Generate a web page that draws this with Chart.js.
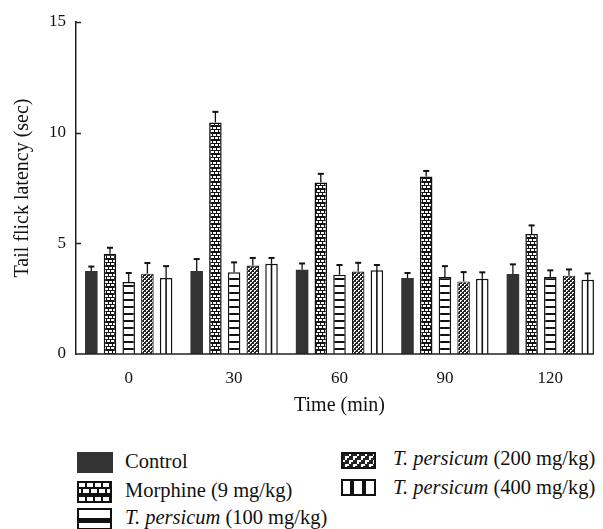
<!DOCTYPE html>
<html>
<head>
<meta charset="utf-8">
<script src="https://cdn.jsdelivr.net/npm/chart.js@4.4.0/dist/chart.umd.min.js"></script>
<style>
  body { margin: 0; background: #fff; width: 603px; height: 529px; overflow: hidden; position: relative;
         font-family: 'Liberation Serif', serif; color: #111; }
  #chart-box { position: absolute; left: 0; top: 0; width: 603px; height: 430px; }
  .swatch { position: absolute; }
  .leg-text { position: absolute; font-size: 20.5px; line-height: 20px; white-space: nowrap; }
</style>
</head>
<body>
<div id="chart-box"><canvas id="tail-chart"></canvas></div>

<canvas class="swatch" id="sw-control" width="36" height="21" style="left:77px;top:452px"></canvas>
<div class="leg-text" style="left:125px;top:451px">Control</div>
<canvas class="swatch" id="sw-morphine" width="35" height="22" style="left:77px;top:481px"></canvas>
<div class="leg-text" style="left:125px;top:480px">Morphine (9 mg/kg)</div>
<canvas class="swatch" id="sw-tp100" width="35" height="22" style="left:77px;top:508px"></canvas>
<div class="leg-text" style="left:125px;top:507px"><i>T. persicum</i> (100 mg/kg)</div>
<canvas class="swatch" id="sw-tp200" width="35" height="17" style="left:341px;top:452px"></canvas>
<div class="leg-text" style="left:393px;top:448px"><i>T. persicum</i> (200 mg/kg)</div>
<canvas class="swatch" id="sw-tp400" width="35" height="17" style="left:341px;top:479px"></canvas>
<div class="leg-text" style="left:393px;top:477px"><i>T. persicum</i> (400 mg/kg)</div>

<script>
// values (mean and the upward error bar)
const timePoints = ['0', '30', '60', '90', '120'];
const seriesNames = ['Control', 'Morphine (9 mg/kg)', 'T. persicum (100 mg/kg)',
                     'T. persicum (200 mg/kg)', 'T. persicum (400 mg/kg)'];
const controlMean = [3.75, 3.75, 3.81, 3.43, 3.61];
const controlErr = [0.20, 0.54, 0.28, 0.23, 0.44];
const morphineMean = [4.53, 10.46, 7.75, 8.02, 5.42];
const morphineErr = [0.27, 0.48, 0.39, 0.25, 0.39];
const tp100Mean = [3.25, 3.69, 3.58, 3.48, 3.48];
const tp100Err = [0.41, 0.45, 0.44, 0.49, 0.30];
const tp200Mean = [3.63, 4.00, 3.73, 3.28, 3.54];
const tp200Err = [0.48, 0.34, 0.39, 0.42, 0.28];
const tp400Mean = [3.43, 4.08, 3.78, 3.40, 3.36];
const tp400Err = [0.54, 0.26, 0.24, 0.29, 0.28];
const yTicks = [0, 5, 10, 15];

const INK = '#111';
const FONT = "'Liberation Serif', 'Times New Roman', serif";

// pattern tiles, s = pixel scale
function brickTile(s) {
  const c = document.createElement('canvas');
  c.width = 8 * s; c.height = 7 * s;
  const g = c.getContext('2d');
  g.fillStyle = INK; g.fillRect(0, 0, c.width, c.height);
  g.fillStyle = '#fff';
  g.scale(s, s);
  g.fillRect(1, 1, 3, 2); g.fillRect(5, 1, 3, 2);
  g.fillRect(3, 4, 3, 2); g.fillRect(7, 4, 1, 2); g.fillRect(0, 4, 2, 2);
  return c;
}

function stripeTile() {
  const c = document.createElement('canvas');
  c.width = 4; c.height = 7;
  const g = c.getContext('2d');
  g.fillStyle = '#fff'; g.fillRect(0, 0, 4, 7);
  g.fillStyle = INK; g.fillRect(0, 5, 4, 2);
  return c;
}

function speckleTile(s) {
  const c = document.createElement('canvas');
  c.width = 4 * s; c.height = 4 * s;
  const g = c.getContext('2d');
  g.fillStyle = '#222'; g.fillRect(0, 0, c.width, c.height);
  g.fillStyle = '#fff';
  g.scale(s, s);
  g.fillRect(0, 0, 2, 1); g.fillRect(0, 1, 1, 1);
  g.fillRect(2, 2, 2, 1); g.fillRect(2, 3, 1, 1);
  return c;
}

const tmp = document.createElement('canvas').getContext('2d');
const brickFill = tmp.createPattern(brickTile(1), 'repeat');
const stripeFill = tmp.createPattern(stripeTile(), 'repeat');
const speckleFill = tmp.createPattern(speckleTile(1), 'repeat');

// error bars, the middle line of the 400 mg bars, inward y ticks, x axis line
const extrasPlugin = {
  id: 'extras',
  afterDatasetsDraw(chart) {
    const ctx = chart.ctx;
    const y = chart.scales.y;
    const area = chart.chartArea;
    ctx.save();
    ctx.strokeStyle = INK;
    let lastEdge = area.right;
    chart.data.datasets.forEach((ds, di) => {
      const meta = chart.getDatasetMeta(di);
      meta.data.forEach((bar, i) => {
        if (ds.midLine) {
          ctx.lineWidth = 1.6;
          ctx.beginPath();
          ctx.moveTo(bar.x, bar.y);
          ctx.lineTo(bar.x, bar.base);
          ctx.stroke();
        }
        const top = y.getPixelForValue(ds.data[i] + ds.errors[i]);
        ctx.lineWidth = 1.3;
        ctx.beginPath();
        ctx.moveTo(bar.x, bar.y);
        ctx.lineTo(bar.x, top);
        ctx.stroke();
        ctx.lineWidth = 2;
        ctx.beginPath();
        ctx.moveTo(bar.x - 3, top);
        ctx.lineTo(bar.x + 3, top);
        ctx.stroke();
        if (di === chart.data.datasets.length - 1 && i === meta.data.length - 1) {
          lastEdge = bar.x + bar.width / 2;
        }
      });
    });
    ctx.lineWidth = 1.5;
    ctx.strokeStyle = '#222';
    yTicks.slice(1).forEach(v => {
      const py = Math.round(y.getPixelForValue(v)) + 0.5;
      ctx.beginPath();
      ctx.moveTo(area.left, py);
      ctx.lineTo(area.left + 5, py);
      ctx.stroke();
    });
    ctx.beginPath();
    ctx.moveTo(area.left, area.bottom);
    ctx.lineTo(lastEdge, area.bottom);
    ctx.stroke();
    ctx.restore();
  }
};

const ctx = document.getElementById('tail-chart').getContext('2d');
const tailChart = new Chart(ctx, {
  type: 'bar',
  data: {
    labels: timePoints,
    datasets: [
      { label: seriesNames[0], data: controlMean, errors: controlErr,
        backgroundColor: '#333', borderWidth: 0 },
      { label: seriesNames[1], data: morphineMean, errors: morphineErr,
        backgroundColor: brickFill, borderColor: INK, borderWidth: 1.5 },
      { label: seriesNames[2], data: tp100Mean, errors: tp100Err,
        backgroundColor: stripeFill, borderColor: INK, borderWidth: 1.5 },
      { label: seriesNames[3], data: tp200Mean, errors: tp200Err,
        backgroundColor: speckleFill, borderColor: INK, borderWidth: 1.2 },
      { label: seriesNames[4], data: tp400Mean, errors: tp400Err, midLine: true,
        backgroundColor: '#fff', borderColor: INK, borderWidth: 1.5 }
    ]
  },
  options: {
    responsive: true,
    maintainAspectRatio: false,
    animation: false,
    layout: { padding: { top: 22, right: 0, bottom: 0, left: 0 } },
    datasets: { bar: { categoryPercentage: 0.887, barPercentage: 0.67 } },
    plugins: { legend: { display: false }, tooltip: { enabled: false } },
    scales: {
      x: {
        grid: { display: false },
        border: { display: false },
        ticks: { color: INK, font: { family: FONT, size: 17 }, padding: 6 },
        title: { display: true, text: 'Time (min)', color: INK,
                 font: { family: FONT, size: 20 }, padding: { top: 0, bottom: 12 } },
        afterFit: s => { s.height = 76; }
      },
      y: {
        min: 0,
        max: 15,
        grid: { display: false, drawTicks: false },
        border: { display: true, color: '#222', width: 1.5 },
        ticks: { stepSize: 5, color: INK, font: { family: FONT, size: 17 }, padding: 10 },
        title: { display: true, text: 'Tail flick latency (sec)', color: INK,
                 font: { family: FONT, size: 20 }, padding: { top: 11, bottom: 0 } },
        afterFit: s => { s.width = 76; }
      }
    }
  },
  plugins: [extrasPlugin]
});

// legend swatches
function swatch(id, paint, bordered) {
  const c = document.getElementById(id);
  const g = c.getContext('2d');
  paint(g, c.width, c.height);
  if (bordered) {
    g.strokeStyle = INK;
    g.lineWidth = 2;
    g.strokeRect(1, 1, c.width - 2, c.height - 2);
  }
}
swatch('sw-control', (g, w, h) => { g.fillStyle = '#333'; g.fillRect(0, 0, w, h); }, false);
swatch('sw-morphine', (g, w, h) => {
  g.fillStyle = g.createPattern(brickTile(2), 'repeat'); g.fillRect(0, 0, w, h);
}, true);
swatch('sw-tp100', (g, w, h) => {
  g.fillStyle = '#fff'; g.fillRect(0, 0, w, h);
  g.fillStyle = INK; g.fillRect(0, 10, w, 5);
}, true);
swatch('sw-tp200', (g, w, h) => {
  g.fillStyle = g.createPattern(speckleTile(2), 'repeat'); g.fillRect(0, 0, w, h);
}, true);
swatch('sw-tp400', (g, w, h) => {
  g.fillStyle = '#fff'; g.fillRect(0, 0, w, h);
  g.fillStyle = INK; g.fillRect(9, 0, 4, h); g.fillRect(21, 0, 4, h);
}, true);
</script>
</body>
</html>
